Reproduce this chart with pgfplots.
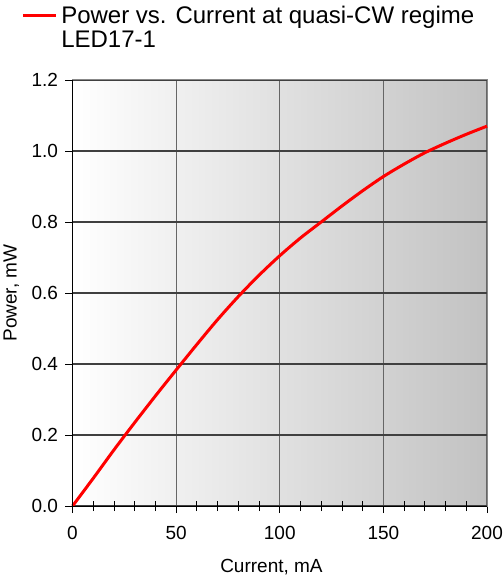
\documentclass[border=0pt]{standalone}
\usepackage{pgfplots}
\pgfplotsset{compat=1.18}
\usepackage{fontspec}
\setmainfont{Liberation Sans}
\definecolor{gridx}{HTML}{666666}
\definecolor{gridy}{HTML}{404040}
\definecolor{bordc}{HTML}{888888}
\definecolor{shadeR}{HTML}{C2C2C2}
\begin{document}
\begin{tikzpicture}
\begin{axis}[
  name=ax,
  scale only axis,
  width=414.5bp, height=426bp,
  xmin=0, xmax=200, ymin=0, ymax=1.2,
  xtick={0,50,100,150,200},
  ytick={0,0.2,0.4,0.6,0.8,1.0,1.2},
  minor xtick={10,20,30,40,60,70,80,90,110,120,130,140,160,170,180,190},
  yticklabel style={/pgf/number format/fixed, /pgf/number format/fixed zerofill, /pgf/number format/precision=1, xshift=-4bp},
  /pgf/number format/assume math mode=true,
  ticklabel style={font=\fontsize{19bp}{22bp}\selectfont},
  label style={font=\fontsize{19bp}{22bp}\selectfont},
  xlabel={Current, mA},
  ylabel={Power, mW},
  xlabel style={at={(rel axis cs:0.48,0)}, anchor=north, yshift=-50bp},
  ylabel style={at={(rel axis cs:0,0.5)}, anchor=south, yshift=50bp},
  xticklabel style={yshift=-10bp},
  tick align=outside,
  major tick length=7bp,
  minor tick length=10bp,
  minor tick style={black, yshift=5bp},
  tick style={black, line width=0.8pt},
  xtick pos=bottom, ytick pos=left,
  grid=major,
  x grid style={gridx, line width=1.1pt},
  y grid style={gridy, line width=1.1pt},
  axis line style={bordc, line width=1pt},
  axis background/.style={left color=white, right color=shadeR},
  legend style={draw=none, fill=none, inner sep=0pt, anchor=north west,
    at={(rel axis cs:-0.124,1.18)},
    font=\fontsize{24bp}{25bp}\selectfont,
    cells={anchor=west}, column sep=2bp},
  legend image code/.code={\draw[#1] (0bp,0bp) -- (33bp,0bp);},
  clip=false,
]
\addplot[red, line width=3bp, smooth] coordinates {
(0,0) (10,0.078) (20,0.158) (30,0.235) (40,0.31) (50,0.383) (60,0.455)
(70,0.525) (80,0.59) (90,0.65) (100,0.705) (110,0.755) (120,0.80)
(130,0.845) (140,0.888) (150,0.928) (160,0.963) (170,0.995) (180,1.022)
(190,1.047) (200,1.07)};
\addlegendentry{\begin{tabular}[t]{@{}l@{}}Power vs. Current at quasi-CW regime\\[-1bp]LED17-1\end{tabular}}
\draw[black, line width=1pt] (rel axis cs:0,1) -- (rel axis cs:0,0) -- (rel axis cs:1,0);
\end{axis}
\pgfresetboundingbox
\path[use as bounding box] ([shift={(-72.5bp,-74bp)}]ax.south west) rectangle ([shift={(16bp,80bp)}]ax.north east);
\end{tikzpicture}
\end{document}
